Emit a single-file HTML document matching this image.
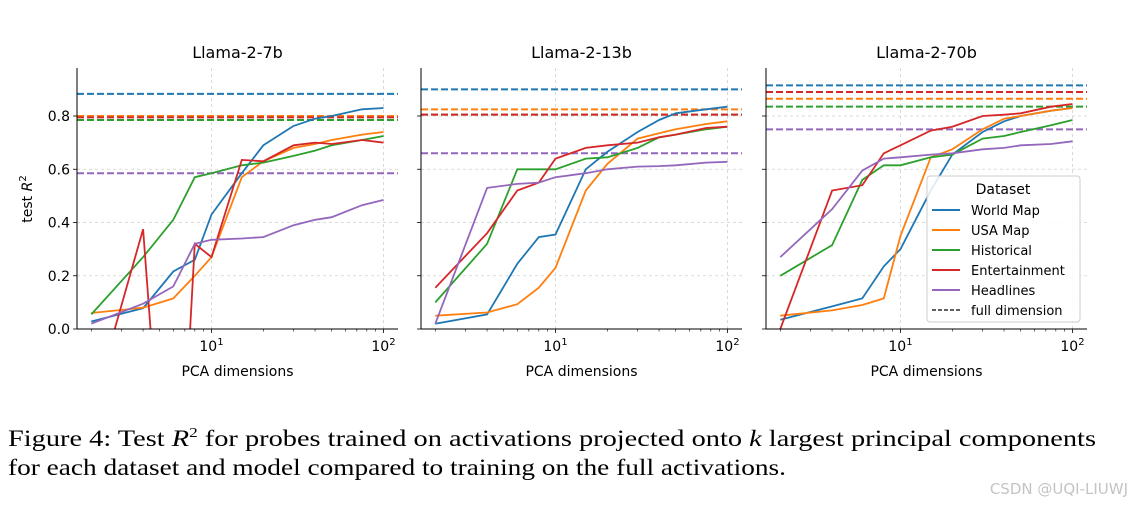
<!DOCTYPE html>
<html><head><meta charset="utf-8"><style>
html,body{margin:0;padding:0;background:#fff;width:1135px;height:508px;overflow:hidden;}
svg{display:block;font-family:"DejaVu Sans","Liberation Sans",sans-serif;}
.cap{font-family:"Liberation Serif","Times New Roman",serif;font-size:23px;}
</style></head><body>
<svg id="fig" width="1135" height="508" viewBox="0 0 1135 508">
<text class="cap" x="8" y="446" textLength="1088" lengthAdjust="spacingAndGlyphs">Figure 4: Test <tspan font-style="italic">R</tspan><tspan font-size="14" dy="-9">2</tspan><tspan dy="9"> for probes trained on activations projected onto </tspan><tspan font-style="italic">k</tspan> largest principal components</text>
<text class="cap" x="8" y="475" textLength="778" lengthAdjust="spacingAndGlyphs">for each dataset and model compared to training on the full activations.</text>
<text x="1128" y="494" text-anchor="end" font-size="15" fill="#c4c4c4">CSDN @UQI-LIUWJ</text>
</svg>
<script>
const dims = [2,4,6,8,10,15,20,30,40,50,75,100];
const seriesNames = ["World Map","USA Map","Historical","Entertainment","Headlines"];
const colors = ["#1f77b4","#ff7f0e","#2ca02c","#d62728","#9467bd"];
const modelTitles = ["Llama-2-7b","Llama-2-13b","Llama-2-70b"];
const yTicks = [0,0.2,0.4,0.6,0.8];
const yTickLabels = ["0.0","0.2","0.4","0.6","0.8"];
const xTicks = [10,100];
const m7Values = [
 [0.028,0.078,0.216,0.26,0.43,0.585,0.69,0.763,0.79,0.80,0.825,0.83],
 [0.06,0.08,0.115,0.2,0.27,0.57,0.63,0.68,0.695,0.71,0.73,0.74],
 [0.055,0.27,0.41,0.57,0.585,0.615,0.625,0.65,0.67,0.69,0.71,0.725],
 [-0.31,0.375,-1.15,0.32,0.27,0.635,0.63,0.69,0.70,0.695,0.71,0.70],
 [0.02,0.095,0.16,0.32,0.335,0.34,0.345,0.39,0.41,0.42,0.465,0.485]];
const m7Full = [0.883,0.80,0.785,0.795,0.585];
const m13Values = [
 [0.02,0.055,0.245,0.345,0.355,0.6,0.665,0.74,0.785,0.81,0.825,0.835],
 [0.05,0.062,0.093,0.155,0.23,0.52,0.62,0.715,0.735,0.75,0.77,0.78],
 [0.1,0.32,0.6,0.6,0.6,0.64,0.645,0.68,0.72,0.73,0.75,0.76],
 [0.155,0.36,0.52,0.55,0.64,0.68,0.69,0.70,0.72,0.73,0.755,0.76],
 [0.02,0.53,0.545,0.55,0.57,0.585,0.6,0.61,0.612,0.615,0.625,0.628]];
const m13Full = [0.9,0.825,0.805,0.805,0.66];
const m70Values = [
 [0.035,0.085,0.115,0.235,0.3,0.52,0.655,0.74,0.78,0.8,0.82,0.83],
 [0.05,0.07,0.09,0.115,0.35,0.645,0.675,0.75,0.79,0.8,0.82,0.83],
 [0.2,0.315,0.56,0.615,0.615,0.645,0.655,0.715,0.725,0.74,0.765,0.785],
 [0.0,0.52,0.54,0.66,0.69,0.745,0.76,0.80,0.805,0.81,0.835,0.845],
 [0.27,0.45,0.595,0.64,0.645,0.655,0.66,0.675,0.68,0.69,0.695,0.705]];
const m70Full = [0.915,0.865,0.835,0.89,0.75];
const allValues = [m7Values,m13Values,m70Values];
const allFull = [m7Full,m13Full,m70Full];

const NS="http://www.w3.org/2000/svg";
const svg=document.getElementById('fig');
function mk(tag,attrs,parent){const e=document.createElementNS(NS,tag);for(const k in attrs)e.setAttribute(k,attrs[k]);(parent||svg).appendChild(e);return e;}
const panelLefts=[77,421,766], W=321, plotTop=68, plotBottom=329;
const yScale=v=>329-v*266.25;
allValues.forEach((vals,p)=>{
  const L=panelLefts[p];
  const xScale=d=>L+134.5+(Math.log10(d)-1)*172;
  const g=mk('g',{});
  
  
  const clipId='clip'+p;
  const cp=mk('clipPath',{id:clipId},g);mk('rect',{x:L,y:plotTop,width:W,height:plotBottom-plotTop},cp);
  yTicks.forEach((t,i)=>{
    const y=yScale(t);
    const gl=mk('line',{x1:L,x2:L+W,y1:y,y2:y,stroke:'#d0d0d0','stroke-width':0.8,'stroke-dasharray':'3,3'},g);
    
    
    mk('line',{x1:L-4,x2:L,y1:y,y2:y,stroke:'#000','stroke-width':0.8},g);
    if(p===0){const tl=mk('text',{x:L-7,y:y+5,'text-anchor':'end','font-size':14},g);tl.textContent=yTickLabels[i];
      
      }
  });
  xTicks.forEach(t=>{
    const x=xScale(t);
    const gl=mk('line',{x1:x,x2:x,y1:plotTop,y2:plotBottom,stroke:'#d0d0d0','stroke-width':0.8,'stroke-dasharray':'3,3'},g);
    
    
    mk('line',{x1:x,x2:x,y1:plotBottom,y2:plotBottom+4,stroke:'#000','stroke-width':0.8},g);
    const tl=mk('text',{x:x,y:plotBottom+22,'text-anchor':'middle','font-size':14},g);
    tl.innerHTML='10<tspan font-size="10" dy="-6">'+Math.round(Math.log10(t))+'</tspan>';
    
    
  });
  [2,3,4,5,6,7,8,9,20,30,40,50,60,70,80,90].forEach(t=>{const x=xScale(t);if(x>L)mk('line',{x1:x,x2:x,y1:plotBottom,y2:plotBottom+2.5,stroke:'#000','stroke-width':0.6},g);});
  allFull[p].forEach((v,s)=>{
    const y=yScale(v);
    const dl=mk('line',{x1:L,x2:L+W,y1:y,y2:y,stroke:colors[s],'stroke-width':2,'stroke-dasharray':'7,3'},g);
    
    
  });
  vals.forEach((arr,s)=>{
    const pts=arr.map((v,i)=>xScale(dims[i]).toFixed(1)+','+yScale(v).toFixed(1)).join(' ');
    const pl=mk('polyline',{points:pts,fill:'none',stroke:colors[s],'stroke-width':1.8,'clip-path':'url(#'+clipId+')'},g);
    
    
  });
  mk('line',{x1:L,x2:L,y1:plotTop,y2:plotBottom,stroke:'#000','stroke-width':1},g);
  mk('line',{x1:L,x2:L+W,y1:plotBottom,y2:plotBottom,stroke:'#000','stroke-width':1},g);
  const t=mk('text',{x:L+W/2,y:58,'text-anchor':'middle','font-size':16},g);t.textContent=modelTitles[p];
  
  
  const xl=mk('text',{x:L+W/2,y:376,'text-anchor':'middle','font-size':14},g);xl.textContent='PCA dimensions';
  
  
});
const yl=mk('text',{x:0,y:0,'text-anchor':'middle','font-size':14,transform:'translate(32,199) rotate(-90)'});
yl.innerHTML='test <tspan font-style="italic">R</tspan><tspan font-size="10" dy="-6">2</tspan>';


const lg=mk('g',{});


mk('rect',{x:927,y:176,width:153,height:146,rx:3,fill:'#fff','fill-opacity':0.85,stroke:'#ccc','stroke-width':1},lg);
const lt=mk('text',{x:1003,y:194,'text-anchor':'middle','font-size':14},lg);lt.textContent='Dataset';
seriesNames.concat(['full dimension']).forEach((n,i)=>{
  const y=210+i*20;
  const e=mk('g',{},lg);
  
  
  mk('line',{x1:932,x2:960,y1:y,y2:y,stroke:i<5?colors[i]:'#000','stroke-width':i<5?2:1.3,'stroke-dasharray':i<5?'none':'4,2'},e);
  const tx=mk('text',{x:971,y:y+5,'font-size':13},e);tx.textContent=n;
});
</script>
</body></html>
